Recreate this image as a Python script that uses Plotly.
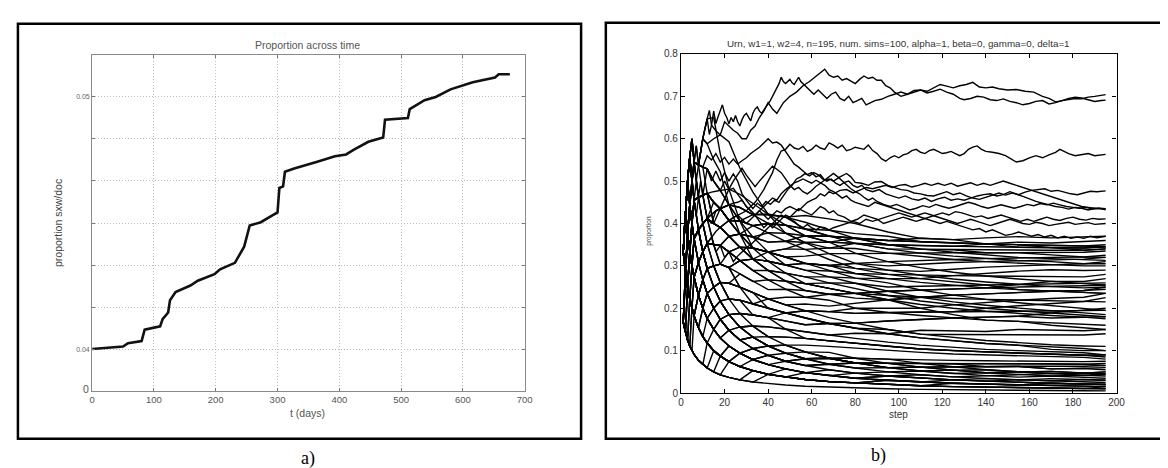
import plotly.graph_objects as go

W, H = 1168, 468

# ---------------- panel a data ----------------
t_days = [0, 20, 50, 58, 80, 85, 110, 114, 123, 126, 135, 159, 171, 198, 207, 231, 238, 246,
          255, 273, 291, 300, 303, 309, 312, 327, 363, 393, 411, 423, 447, 471, 474, 511,
          514, 538, 556, 580, 616, 652, 658, 676]
prop_sxw = [0.0400, 0.04003, 0.0401, 0.04023, 0.04032, 0.04077, 0.0409, 0.04119, 0.04145,
            0.04194, 0.04226, 0.04252, 0.04271, 0.04297, 0.04316, 0.04342, 0.04374, 0.04406,
            0.0449, 0.04503, 0.04529, 0.04542, 0.04639, 0.04645, 0.04703, 0.04716, 0.04742,
            0.04765, 0.04772, 0.0479, 0.04822, 0.04839, 0.0491, 0.04916, 0.04952, 0.04987,
            0.0500, 0.0503, 0.05058, 0.05077, 0.0509, 0.0509]
a_xticks = [0, 100, 200, 300, 400, 500, 600, 700]
a_yticks = [0.038333, 0.04, 0.041667, 0.043333, 0.045, 0.046667, 0.048333, 0.05, 0.051667]
a_yticktext = ["", "0.04", "", "", "", "", "", "0.05", ""]

# ---------------- panel b data ----------------
grid_steps = [1, 2, 3, 4, 5, 6, 8, 10, 12, 15, 18, 22, 27, 33, 40, 48, 57, 68, 80, 95, 110,
              125, 140, 155, 170, 185, 195]

low_paths = [
    [.167,.143,.125,.111,.1,.091,.077,.067,.059,.05,.043,.037,.031,.026,.022,.019,.016,.014,.012,.01,.0087,.0077,.0069,.0063,.0057,.0053,.005],
    [.167,.143,.125,.111,.1,.091,.077,.067,.059,.05,.043,.037,.031,.026,.044,.038,.032,.027,.024,.02,.017,.015,.014,.0125,.011,.0105,.01],
    [.167,.143,.125,.111,.1,.091,.077,.067,.059,.05,.087,.074,.0625,.053,.044,.038,.032,.027,.024,.03,.026,.023,.021,.019,.017,.016,.015],
    [.333,.286,.25,.222,.2,.182,.154,.133,.118,.1,.087,.074,.0625,.053,.044,.038,.032,.027,.024,.02,.017,.015,.014,.0125,.0114,.0105,.01],
    [.333,.286,.25,.222,.2,.182,.154,.2,.176,.15,.13,.111,.094,.105,.089,.075,.065,.068,.059,.05,.052,.046,.041,.0375,.04,.037,.035],
    [.167,.143,.125,.111,.1,.091,.077,.067,.059,.05,.043,.074,.0625,.053,.044,.057,.048,.041,.035,.04,.035,.031,.034,.031,.029,.032,.03],
    [.333,.429,.375,.333,.3,.273,.231,.2,.176,.15,.13,.111,.094,.079,.089,.075,.065,.055,.047,.05,.043,.038,.034,.031,.034,.032,.03],
    [.167,.143,.25,.222,.2,.182,.154,.133,.118,.1,.087,.074,.0625,.079,.067,.057,.048,.041,.047,.04,.035,.031,.028,.031,.029,.026,.025],
    [.333,.429,.5,.444,.4,.364,.308,.267,.294,.25,.217,.185,.156,.132,.111,.094,.097,.082,.071,.07,.061,.062,.055,.05,.051,.047,.045],
    [.333,.286,.375,.444,.4,.364,.308,.267,.235,.2,.174,.148,.125,.132,.111,.113,.097,.082,.082,.07,.07,.062,.062,.0625,.057,.058,.06],
    [.167,.143,.125,.111,.2,.182,.154,.133,.118,.1,.087,.111,.094,.079,.067,.057,.048,.055,.047,.04,.043,.038,.041,.044,.046,.047,.05],
    [.333,.286,.25,.222,.2,.182,.231,.2,.176,.2,.174,.148,.125,.105,.111,.094,.081,.082,.071,.07,.07,.069,.069,.069,.069,.068,.065],
    [.167,.143,.125,.111,.1,.091,.077,.067,.059,.1,.087,.074,.0625,.053,.044,.038,.032,.027,.024,.02,.017,.023,.021,.019,.017,.016,.015],
    [.333,.286,.25,.222,.2,.182,.154,.133,.118,.1,.087,.074,.0625,.053,.044,.038,.048,.041,.035,.03,.026,.023,.021,.019,.023,.021,.02],
    [.167,.286,.25,.222,.2,.182,.231,.2,.176,.15,.13,.111,.094,.105,.089,.075,.081,.068,.059,.06,.052,.046,.048,.044,.04,.042,.04],
    [.333,.429,.5,.556,.5,.455,.385,.333,.294,.25,.217,.185,.156,.158,.133,.113,.097,.096,.082,.08,.07,.069,.062,.0625,.057,.058,.055],
    [.333,.429,.5,.444,.4,.455,.385,.333,.294,.3,.261,.222,.219,.184,.178,.151,.129,.123,.118,.11,.104,.1,.097,.094,.091,.089,.09],
    [.333,.429,.5,.556,.6,.545,.462,.4,.412,.35,.304,.296,.25,.237,.2,.189,.177,.164,.153,.14,.13,.123,.117,.1125,.103,.1,.10],
    [.333,.286,.375,.333,.3,.273,.308,.267,.235,.2,.217,.185,.156,.158,.133,.132,.129,.123,.118,.11,.104,.1,.097,.094,.091,.089,.09],
    [.333,.429,.375,.444,.4,.364,.308,.333,.294,.3,.261,.259,.25,.21,.2,.189,.177,.164,.153,.15,.139,.138,.138,.1375,.137,.137,.14],
    [.333,.429,.5,.556,.5,.545,.462,.467,.471,.4,.391,.37,.344,.316,.289,.264,.258,.247,.235,.22,.2,.185,.172,.169,.16,.153,.15],
    [.167,.143,.125,.111,.1,.091,.077,.067,.118,.1,.087,.074,.094,.079,.067,.057,.048,.041,.035,.03,.026,.031,.028,.025,.023,.021,.02],
    [.333,.286,.25,.333,.3,.273,.231,.2,.176,.15,.13,.111,.094,.079,.067,.057,.048,.041,.035,.04,.035,.031,.028,.025,.023,.021,.02],
    [.167,.143,.125,.222,.2,.182,.154,.133,.118,.1,.087,.074,.0625,.053,.044,.038,.032,.027,.024,.02,.017,.015,.014,.0125,.0114,.0105,.015],
    [.333,.286,.25,.222,.3,.273,.231,.267,.235,.2,.174,.148,.156,.132,.111,.113,.097,.082,.071,.07,.061,.054,.055,.05,.046,.042,.045],
    [.333,.429,.375,.333,.3,.273,.231,.2,.176,.15,.13,.148,.125,.105,.111,.094,.081,.068,.071,.06,.052,.054,.048,.05,.046,.047,.045],
    [.167,.143,.125,.111,.1,.091,.077,.067,.059,.05,.043,.037,.031,.053,.044,.038,.032,.027,.024,.03,.026,.023,.021,.019,.023,.021,.02],
    [.333,.286,.375,.333,.3,.273,.231,.267,.235,.2,.174,.148,.125,.132,.111,.094,.081,.082,.071,.06,.061,.054,.048,.05,.051,.047,.05],
    [.333,.286,.25,.222,.2,.182,.154,.2,.176,.2,.174,.185,.156,.158,.156,.151,.145,.137,.129,.12,.113,.108,.103,.1,.097,.095,.09],
    [.167,.143,.125,.222,.2,.182,.154,.133,.176,.15,.174,.148,.156,.132,.133,.132,.129,.123,.118,.11,.104,.1,.097,.094,.091,.089,.085],
    [.333,.286,.25,.222,.2,.273,.231,.267,.235,.25,.217,.222,.219,.21,.2,.189,.177,.164,.153,.14,.13,.123,.117,.113,.109,.105,.1],
    [.167,.286,.25,.222,.2,.182,.154,.133,.118,.15,.13,.148,.125,.132,.111,.113,.113,.11,.106,.1,.096,.092,.09,.088,.086,.084,.08],
    [.333,.429,.375,.333,.3,.273,.231,.2,.176,.15,.174,.148,.125,.105,.089,.094,.081,.082,.082,.08,.078,.077,.076,.075,.074,.074,.075],
    [.167,.143,.125,.111,.1,.182,.154,.133,.118,.1,.087,.074,.094,.079,.067,.075,.065,.068,.071,.07,.07,.069,.069,.069,.069,.068,.07],
    [.333,.286,.25,.222,.2,.182,.154,.133,.118,.1,.087,.111,.094,.079,.089,.075,.081,.082,.071,.06,.061,.062,.062,.063,.063,.063,.065],
]

mid_paths = [
    [.333,.429,.5,.556,.5,.455,.385,.333,.294,.25,.217,.185,.1875,.184,.178,.17,.161,.164,.165,.17,.174,.177,.179,.181,.177,.179,.18],
    [.333,.429,.5,.444,.5,.545,.538,.467,.412,.35,.304,.296,.25,.237,.222,.208,.194,.192,.188,.19,.191,.192,.193,.194,.194,.195,.195],
    [.333,.429,.5,.556,.6,.545,.538,.6,.647,.65,.565,.481,.406,.342,.311,.283,.258,.247,.235,.23,.226,.223,.221,.219,.217,.216,.215],
    [.333,.429,.5,.556,.6,.545,.538,.6,.588,.6,.609,.593,.531,.474,.422,.377,.355,.342,.341,.33,.322,.315,.31,.306,.303,.3,.3],
    [.333,.429,.375,.444,.5,.545,.538,.533,.529,.5,.478,.481,.469,.447,.422,.396,.371,.356,.353,.34,.339,.338,.338,.3375,.337,.337,.34],
    [.167,.286,.375,.444,.4,.364,.385,.333,.294,.3,.261,.259,.25,.237,.222,.208,.21,.205,.212,.22,.226,.231,.234,.2375,.24,.242,.245],
    [.333,.286,.25,.333,.3,.364,.308,.333,.294,.3,.304,.296,.281,.263,.244,.245,.242,.233,.235,.24,.243,.246,.248,.25,.251,.253,.255],
    [.167,.143,.25,.222,.3,.273,.308,.333,.353,.35,.348,.333,.344,.342,.333,.34,.339,.342,.353,.35,.348,.346,.352,.356,.354,.358,.36],
    [.333,.429,.5,.444,.4,.455,.462,.467,.412,.4,.391,.37,.344,.316,.311,.302,.306,.301,.306,.31,.313,.315,.317,.319,.32,.321,.325],
    [.333,.429,.375,.333,.4,.364,.385,.333,.353,.3,.304,.296,.3125,.316,.311,.302,.306,.301,.306,.30,.304,.308,.31,.3125,.314,.316,.32],
    [.167,.286,.25,.333,.3,.273,.231,.267,.235,.2,.217,.185,.1875,.184,.178,.17,.161,.164,.165,.17,.174,.177,.179,.181,.189,.195,.2],
    [.333,.429,.5,.556,.6,.545,.462,.4,.353,.3,.261,.222,.1875,.158,.156,.151,.145,.137,.141,.14,.148,.146,.145,.15,.149,.147,.15],
    [.333,.286,.375,.333,.4,.455,.462,.467,.471,.45,.435,.407,.375,.342,.333,.321,.323,.329,.329,.33,.33,.331,.331,.331,.331,.332,.335],
    [.167,.286,.375,.444,.5,.455,.462,.467,.471,.45,.435,.407,.406,.395,.378,.377,.371,.37,.365,.36,.365,.362,.366,.369,.366,.368,.37],
    [.333,.429,.375,.444,.4,.364,.385,.333,.294,.25,.261,.222,.219,.21,.2,.189,.194,.192,.188,.19,.191,.192,.2,.206,.211,.216,.225],
    [.167,.143,.125,.111,.2,.182,.231,.2,.235,.2,.217,.222,.219,.21,.222,.226,.226,.233,.235,.24,.243,.246,.248,.256,.263,.263,.27],
    [.333,.429,.5,.556,.5,.545,.538,.533,.471,.4,.391,.37,.344,.316,.289,.283,.274,.274,.271,.27,.27,.277,.283,.2875,.291,.289,.29],
    [.333,.286,.25,.222,.2,.273,.231,.2,.235,.2,.174,.185,.1875,.184,.178,.189,.194,.192,.2,.2,.2,.208,.214,.219,.223,.226,.235],
    [.167,.143,.25,.333,.4,.364,.385,.333,.353,.35,.348,.333,.3125,.289,.267,.264,.258,.26,.259,.25,.252,.254,.255,.256,.257,.258,.26],
    [.333,.429,.5,.556,.5,.545,.538,.6,.588,.55,.522,.444,.375,.316,.289,.264,.242,.233,.224,.22,.226,.231,.234,.2375,.24,.242,.25],
    [.333,.429,.5,.556,.6,.545,.538,.533,.529,.5,.478,.444,.4375,.421,.422,.415,.419,.411,.40,.38,.365,.362,.352,.35,.343,.342,.345],
    [.167,.286,.25,.333,.3,.364,.385,.4,.412,.4,.391,.407,.406,.395,.40,.396,.387,.384,.376,.37,.357,.354,.352,.344,.343,.337,.34],
    [.333,.286,.375,.333,.3,.364,.308,.333,.294,.3,.304,.296,.3125,.316,.333,.34,.355,.356,.365,.36,.357,.354,.352,.35,.349,.347,.35],
    [.167,.143,.25,.222,.3,.364,.385,.4,.412,.4,.391,.37,.375,.368,.356,.358,.355,.356,.353,.35,.339,.338,.331,.331,.326,.321,.32],
    [.333,.429,.375,.444,.5,.455,.462,.467,.471,.45,.435,.407,.375,.368,.356,.358,.371,.37,.365,.35,.348,.346,.345,.344,.343,.342,.345],
    [.333,.286,.25,.333,.4,.455,.462,.467,.471,.45,.435,.407,.375,.342,.333,.321,.306,.301,.294,.29,.287,.292,.297,.30,.303,.305,.31],
    [.333,.429,.5,.444,.5,.545,.538,.533,.529,.5,.478,.444,.406,.368,.333,.302,.29,.288,.282,.28,.278,.277,.276,.275,.274,.274,.28],
    [.333,.429,.5,.444,.4,.455,.462,.467,.471,.45,.435,.444,.438,.421,.40,.377,.355,.329,.306,.29,.278,.269,.262,.256,.251,.248,.25],
    [.167,.286,.375,.333,.4,.364,.385,.4,.412,.4,.391,.37,.375,.368,.378,.358,.339,.315,.294,.28,.27,.262,.255,.244,.24,.237,.235],
    [.333,.286,.25,.222,.3,.273,.308,.333,.353,.35,.348,.333,.344,.342,.333,.32,.306,.288,.271,.26,.243,.231,.221,.213,.206,.2,.195],
    [.333,.429,.375,.333,.3,.364,.385,.4,.353,.35,.348,.37,.375,.395,.40,.396,.371,.356,.33,.31,.296,.285,.276,.269,.263,.258,.255],
    [.167,.143,.125,.222,.2,.273,.308,.267,.294,.3,.304,.296,.3125,.289,.289,.283,.274,.26,.247,.23,.217,.208,.2,.194,.189,.184,.18],
    [.333,.286,.25,.333,.3,.273,.231,.267,.294,.3,.304,.333,.3125,.316,.311,.302,.29,.274,.259,.24,.226,.215,.207,.2,.194,.189,.185],
    [.333,.429,.5,.556,.5,.455,.462,.4,.353,.35,.348,.333,.3125,.289,.267,.245,.226,.219,.2,.19,.183,.177,.172,.169,.166,.163,.16],
    [.167,.286,.25,.222,.2,.182,.231,.267,.235,.25,.261,.259,.25,.237,.222,.208,.194,.178,.165,.15,.139,.131,.124,.119,.114,.111,.11],
    [.333,.286,.375,.333,.3,.273,.231,.2,.235,.25,.261,.259,.281,.263,.267,.264,.258,.247,.235,.22,.209,.2,.193,.1875,.183,.179,.175],
    [.333,.429,.375,.444,.4,.364,.385,.333,.353,.35,.348,.37,.344,.342,.333,.321,.306,.301,.282,.27,.261,.254,.248,.244,.24,.237,.235],
    [.333,.429,.5,.444,.5,.455,.462,.467,.471,.45,.435,.444,.438,.421,.42,.415,.403,.384,.365,.35,.34,.332,.326,.32,.317,.315,.313],
    [.167,.286,.375,.444,.4,.455,.462,.467,.412,.4,.435,.407,.406,.421,.422,.415,.387,.37,.353,.34,.33,.323,.317,.3125,.31,.305,.305],
    [.333,.286,.25,.333,.4,.364,.385,.4,.412,.45,.435,.444,.406,.395,.40,.396,.387,.37,.365,.36,.357,.354,.352,.35,.349,.347,.345],
]

# upper simulations, (step, proportion)
sim_top1 = [(1,.333),(2,.429),(3,.5),(4,.556),(5,.5),(6,.545),(7,.583),(8,.538),(10,.6),(12,.647),(13,.667),(14,.632),(16,.619),(18,.609),(20,.64),(22,.63),(24,.62),(26,.613),(28,.6),(30,.60),(32,.62),(34,.63),(36,.65),(38,.665),(40,.685),(42,.67),(44,.66),(47,.685),(50,.70),(53,.71),(56,.725),(59,.735),(62,.748),(64,.755),(66,.764),(68,.75),(70,.745),(72,.748),(74,.738),(76,.742),(78,.735),(80,.73),(82,.74),(84,.748),(86,.742),(88,.745),(90,.738),(92,.738),(94,.725),(96,.72),(98,.71),(101,.70),(104,.705),(107,.71),(110,.715),(113,.712),(116,.72),(119,.728),(122,.724),(125,.72),(128,.725),(131,.728),(134,.733),(137,.722),(140,.72),(143,.722),(146,.718),(150,.715),(154,.716),(158,.712),(162,.71),(166,.70),(169,.695),(172,.687),(175,.69),(178,.692),(181,.695),(184,.694),(187,.698),(190,.70),(193,.702),(195,.704)]
sim_top2 = [(1,.333),(2,.429),(3,.5),(4,.556),(5,.6),(6,.545),(7,.583),(8,.538),(9,.571),(10,.6),(11,.625),(12,.647),(13,.61),(14,.632),(15,.665),(16,.636),(17,.652),(18,.667),(19,.68),(20,.66),(21,.65),(22,.635),(23,.65),(24,.64),(25,.655),(26,.64),(27,.63),(28,.645),(29,.655),(30,.66),(31,.65),(32,.642),(33,.66),(34,.67),(35,.675),(36,.665),(37,.66),(39,.675),(41,.69),(43,.71),(45,.73),(46,.745),(47,.735),(48,.73),(50,.74),(51,.732),(52,.728),(54,.745),(55,.735),(57,.725),(59,.715),(61,.705),(63,.715),(65,.705),(67,.695),(69,.705),(71,.71),(73,.695),(75,.69),(77,.70),(79,.685),(81,.69),(83,.695),(85,.68),(87,.685),(89,.69),(92,.693),(95,.70),(98,.705),(101,.71),(104,.705),(107,.714),(110,.715),(113,.708),(116,.712),(119,.717),(122,.71),(125,.705),(128,.695),(130,.692),(133,.695),(136,.70),(139,.698),(142,.692),(145,.69),(148,.694),(151,.688),(154,.685),(157,.68),(160,.683),(163,.688),(166,.69),(169,.682),(172,.685),(175,.69),(178,.695),(181,.698),(184,.696),(187,.692),(190,.688),(193,.69),(195,.691)]
sim_056 = [(1,.333),(2,.286),(3,.375),(4,.444),(5,.4),(6,.364),(8,.385),(10,.4),(12,.412),(14,.421),(16,.43),(18,.435),(20,.42),(22,.407),(24,.414),(26,.42),(28,.424),(30,.43),(32,.44),(34,.45),(36,.464),(38,.48),(40,.50),(42,.52),(44,.55),(46,.571),(48,.575),(50,.587),(52,.578),(54,.575),(56,.582),(58,.57),(60,.575),(62,.585),(64,.578),(66,.575),(68,.59),(70,.585),(72,.578),(74,.585),(76,.572),(78,.575),(80,.58),(82,.578),(84,.575),(86,.585),(88,.572),(90,.565),(92,.553),(94,.547),(96,.555),(98,.56),(100,.555),(102,.562),(104,.565),(106,.572),(108,.575),(110,.568),(112,.565),(114,.572),(116,.575),(118,.57),(120,.565),(122,.567),(124,.57),(126,.565),(128,.56),(130,.565),(132,.575),(134,.58),(136,.583),(138,.575),(140,.57),(143,.568),(146,.565),(149,.56),(152,.552),(154,.545),(157,.548),(160,.555),(163,.56),(166,.555),(169,.562),(172,.568),(174,.575),(176,.57),(178,.565),(181,.56),(184,.562),(187,.565),(190,.56),(193,.562),(195,.563)]
sim_048 = [(1,.333),(2,.429),(3,.5),(4,.556),(5,.5),(6,.545),(7,.5),(8,.538),(10,.533),(12,.56),(14,.55),(16,.565),(18,.545),(20,.556),(22,.54),(24,.552),(26,.54),(28,.548),(30,.555),(32,.565),(34,.572),(36,.58),(38,.59),(40,.60),(42,.59),(44,.592),(46,.585),(48,.57),(50,.556),(52,.54),(54,.533),(56,.525),(58,.515),(60,.52),(62,.51),(64,.515),(66,.502),(68,.505),(70,.50),(73,.51),(76,.518),(78,.51),(80,.497),(83,.495),(86,.49),(89,.498),(92,.499),(95,.49),(98,.485),(101,.48),(104,.478),(107,.472),(110,.47),(113,.466),(116,.465),(119,.47),(122,.475),(125,.468),(128,.472),(131,.465),(134,.46),(137,.457),(140,.462),(143,.468),(146,.472),(149,.467),(152,.472),(155,.468),(158,.474),(161,.478),(164,.48),(167,.482),(170,.476),(173,.478),(176,.474),(179,.47),(182,.468),(185,.472),(188,.476),(191,.475),(195,.477)]
sim_044a = [(1,.167),(2,.286),(3,.375),(4,.444),(5,.5),(6,.455),(7,.5),(8,.462),(9,.5),(10,.467),(11,.5),(12,.529),(14,.5),(16,.524),(18,.5),(20,.52),(22,.5),(24,.517),(26,.5),(28,.47),(30,.455),(32,.44),(33,.435),(35,.448),(37,.44),(39,.452),(41,.445),(43,.455),(45,.45),(47,.465),(49,.48),(51,.49),(53,.505),(55,.51),(57,.518),(59,.512),(61,.52),(63,.515),(65,.505),(67,.50),(69,.505),(71,.495),(73,.49),(75,.497),(77,.50),(79,.49),(81,.485),(83,.49),(85,.48),(88,.475),(91,.48),(94,.47),(97,.465),(100,.46),(103,.465),(106,.458),(109,.455),(112,.46),(115,.452),(118,.458),(121,.462),(124,.455),(127,.458),(130,.455),(133,.46),(136,.465),(139,.468),(142,.47),(145,.465),(148,.468),(151,.475),(154,.47),(157,.464),(160,.458),(163,.452),(166,.448),(169,.444),(172,.44),(175,.438),(178,.434),(181,.438),(184,.436),(187,.432),(190,.436),(195,.435)]
sim_044b = [(1,.333),(2,.286),(3,.25),(4,.333),(5,.3),(6,.364),(8,.385),(10,.4),(12,.412),(14,.4),(16,.43),(18,.435),(20,.46),(22,.481),(24,.5),(26,.516),(28,.53),(30,.514),(32,.50),(34,.487),(36,.50),(38,.512),(40,.525),(42,.535),(44,.528),(46,.52),(48,.505),(50,.49),(52,.48),(54,.485),(56,.475),(58,.47),(60,.478),(62,.488),(64,.495),(66,.502),(68,.51),(70,.518),(72,.51),(74,.50),(76,.49),(78,.482),(80,.475),(82,.47),(84,.462),(86,.455),(88,.46),(90,.452),(93,.445),(96,.44),(99,.445),(102,.438),(105,.432),(108,.436),(111,.442),(114,.438),(117,.445),(120,.44),(123,.436),(126,.44),(129,.445),(132,.45),(135,.446),(138,.44),(141,.436),(144,.44),(147,.444),(150,.44),(153,.436),(156,.44),(159,.445),(162,.442),(165,.447),(168,.444),(171,.448),(174,.444),(177,.44),(180,.438),(183,.436),(186,.438),(189,.434),(192,.436),(195,.432)]
sim_041 = [(1,.333),(2,.429),(3,.375),(4,.444),(5,.4),(6,.455),(7,.417),(8,.462),(10,.467),(12,.471),(14,.474),(16,.476),(18,.478),(20,.5),(22,.48),(24,.483),(26,.47),(28,.455),(30,.44),(32,.43),(34,.42),(36,.405),(38,.39),(40,.40),(42,.39),(44,.40),(46,.41),(48,.42),(50,.415),(52,.425),(54,.435),(56,.43),(58,.425),(60,.42),(62,.43),(64,.44),(66,.435),(68,.425),(70,.43),(72,.42),(75,.415),(78,.405),(81,.41),(84,.42),(87,.415),(90,.41),(93,.40),(96,.405),(99,.41),(102,.415),(105,.41),(108,.405),(111,.41),(114,.415),(117,.42),(120,.425),(123,.42),(126,.428),(129,.425),(132,.42),(135,.415),(138,.418),(141,.412),(144,.416),(147,.42),(150,.415),(153,.41),(156,.405),(159,.41),(162,.405),(165,.41),(168,.415),(171,.41),(174,.407),(177,.412),(180,.415),(183,.41),(186,.408),(189,.412),(192,.41),(195,.411)]
sim_037 = [(1,.167),(2,.286),(3,.25),(4,.333),(5,.3),(6,.273),(8,.308),(10,.333),(12,.353),(14,.368),(16,.381),(18,.391),(20,.40),(22,.407),(24,.414),(26,.42),(28,.41),(30,.40),(32,.41),(34,.42),(36,.43),(38,.44),(40,.45),(42,.46),(44,.455),(46,.47),(48,.48),(50,.488),(52,.496),(54,.50),(56,.505),(58,.5),(60,.495),(62,.502),(64,.495),(66,.49),(68,.48),(70,.475),(72,.468),(74,.46),(76,.465),(78,.455),(80,.45),(83,.445),(86,.44),(89,.45),(92,.445),(95,.44),(98,.435),(101,.43),(104,.425),(107,.42),(110,.415),(113,.41),(116,.405),(119,.40),(122,.405),(125,.40),(128,.395),(131,.39),(134,.385),(137,.388),(140,.38),(143,.385),(146,.378),(149,.372),(152,.375),(155,.38),(158,.375),(161,.37),(164,.374),(167,.368),(170,.372),(173,.366),(176,.37),(179,.365),(182,.368),(185,.365),(188,.37),(191,.366),(195,.37)]
sim_040 = [(1,.333),(2,.286),(3,.375),(4,.333),(5,.4),(6,.364),(8,.385),(10,.4),(12,.353),(14,.368),(16,.333),(18,.348),(20,.32),(22,.333),(24,.31),(26,.323),(28,.333),(30,.343),(32,.35),(34,.36),(36,.37),(38,.38),(40,.39),(42,.40),(44,.41),(46,.42),(48,.415),(50,.41),(52,.405),(54,.395),(56,.39),(58,.398),(60,.39),(62,.385),(64,.392),(66,.39),(68,.385),(70,.39),(73,.395),(76,.40),(79,.405),(82,.40),(85,.41),(88,.405),(91,.41),(94,.415),(97,.42),(100,.425),(103,.42),(106,.415),(109,.42),(112,.425),(115,.42),(118,.415),(121,.41),(124,.405),(127,.40),(130,.405),(133,.41),(136,.405),(139,.40),(142,.395),(145,.40),(148,.405),(151,.41),(154,.405),(157,.40),(160,.398),(163,.403),(166,.40),(169,.395),(172,.398),(175,.40),(178,.403),(181,.398),(184,.40),(187,.402),(190,.398),(195,.40)]
sim_043 = [(1,.167),(2,.143),(3,.25),(4,.333),(5,.4),(6,.455),(7,.417),(8,.385),(10,.4),(12,.412),(14,.421),(16,.43),(18,.435),(20,.44),(22,.444),(24,.448),(26,.45),(28,.455),(30,.44),(32,.43),(34,.42),(36,.43),(38,.42),(40,.41),(42,.42),(44,.43),(46,.425),(48,.435),(50,.44),(52,.435),(54,.43),(56,.44),(58,.45),(60,.455),(62,.46),(64,.47),(66,.465),(68,.475),(70,.47),(73,.478),(76,.48),(79,.472),(82,.478),(85,.485),(88,.482),(91,.486),(94,.49),(97,.485),(100,.49),(103,.492),(106,.486),(109,.49),(112,.495),(115,.49),(118,.495),(121,.49),(124,.495),(127,.488),(130,.492),(133,.496),(136,.49),(139,.495),(142,.49),(145,.495),(148,.50),(151,.495),(154,.49),(157,.485),(160,.48),(163,.475),(166,.47),(169,.465),(172,.46),(175,.455),(178,.45),(181,.445),(184,.44),(187,.438),(190,.436),(195,.435)]
upper_sims = [sim_top1, sim_top2, sim_056, sim_048, sim_044a, sim_044b, sim_041, sim_037, sim_040, sim_043]

b_xticks = [0, 20, 40, 60, 80, 100, 120, 140, 160, 180, 200]
b_yticks = [0, 0.1, 0.2, 0.3, 0.4, 0.5, 0.6, 0.7, 0.8]

# ---------------- figure ----------------
def px(x):
    return x / W

def py(y):
    return 1 - y / H

fig = go.Figure()

fig.add_trace(go.Scatter(x=t_days, y=prop_sxw, mode="lines",
                         line=dict(color="#111", width=2.6),
                         xaxis="x", yaxis="y", hoverinfo="skip", showlegend=False))

bx, by = [], []
for path in low_paths + mid_paths:
    bx += grid_steps + [None]
    by += path + [None]
for sim in upper_sims:
    bx += [s for s, _ in sim] + [None]
    by += [v for _, v in sim] + [None]
fig.add_trace(go.Scatter(x=bx, y=by, mode="lines", connectgaps=False,
                         line=dict(color="black", width=1.4),
                         xaxis="x2", yaxis="y2", hoverinfo="skip", showlegend=False))

sans = "Liberation Sans, Arial, sans-serif"
serif = "Liberation Serif, Times New Roman, serif"

fig.update_layout(
    width=W, height=H, margin=dict(l=0, r=0, t=0, b=0),
    paper_bgcolor="white", plot_bgcolor="white",
    xaxis=dict(domain=[px(82), px(519)], range=[0, 700], tickvals=a_xticks,
               showgrid=True, gridcolor="#bdbdbd", griddash="1px,2px", gridwidth=1,
               zeroline=False, showline=True, linecolor="#8a8a8a", linewidth=1,
               mirror="ticks", ticks="inside", ticklen=3, tickcolor="#777",
               tickfont=dict(family=sans, size=9.5, color="#555"), anchor="y"),
    yaxis=dict(domain=[py(387), py(42)], range=[a_yticks[0], a_yticks[-1]],
               tickvals=a_yticks, ticktext=a_yticktext,
               showgrid=True, gridcolor="#bdbdbd", griddash="1px,2px", gridwidth=1,
               zeroline=False, showline=True, linecolor="#8a8a8a", linewidth=1,
               mirror="ticks", ticks="inside", ticklen=3, tickcolor="#777",
               tickfont=dict(family=sans, size=7, color="#666"), anchor="x"),
    xaxis2=dict(domain=[px(677), px(1117)], range=[0, 200], tickvals=b_xticks,
                showgrid=False, zeroline=False, showline=True, linecolor="black",
                linewidth=1.2, mirror="ticks", ticks="inside", ticklen=4,
                tickcolor="black", tickfont=dict(family=sans, size=10, color="#333"),
                anchor="y2"),
    yaxis2=dict(domain=[py(389), py(41)], range=[0, 0.8], tickvals=b_yticks,
                ticktext=["0", "0.1", "0.2", "0.3", "0.4", "0.5", "0.6", "0.7", "0.8"],
                showgrid=False, zeroline=False, showline=True, linecolor="black",
                linewidth=1.2, mirror="ticks", ticks="inside", ticklen=4,
                tickcolor="black", tickfont=dict(family=sans, size=10, color="#333"),
                anchor="x2"),
)

# panel frames
fig.add_shape(type="rect", xref="paper", yref="paper", x0=px(7), x1=px(576),
              y0=py(436), y1=py(10), line=dict(color="black", width=2.5))
fig.add_shape(type="rect", xref="paper", yref="paper", x0=px(601), x1=px(1172),
              y0=py(436), y1=py(9), line=dict(color="black", width=2.5))

def note(x, y, text, size, color="#333", family=sans, angle=0):
    fig.add_annotation(x=px(x), y=py(y), xref="paper", yref="paper", text=text,
                       showarrow=False, textangle=angle, xanchor="center", yanchor="middle",
                       font=dict(family=family, size=size, color=color))

note(300, 32, "Proportion across time", 10.5, "#555")
note(300, 409, "t (days)", 10.5, "#555")
note(48, 215, "proportion sxw/doc", 10.5, "#444", angle=-90)
note(76, 385, "0", 10.5, "#555")
note(300, 456, "a)", 18, "black", serif)

note(897, 30, "Urn, w1=1, w2=4, n=195, num. sims=100, alpha=1, beta=0, gamma=0, delta=1", 9.8, "#333")
note(897, 411, "step", 10, "#333")
note(645, 222, "proportion", 6.5, "#444", angle=-90)
note(876, 453, "b)", 18, "black", serif)

fig.write_html("out.html")
